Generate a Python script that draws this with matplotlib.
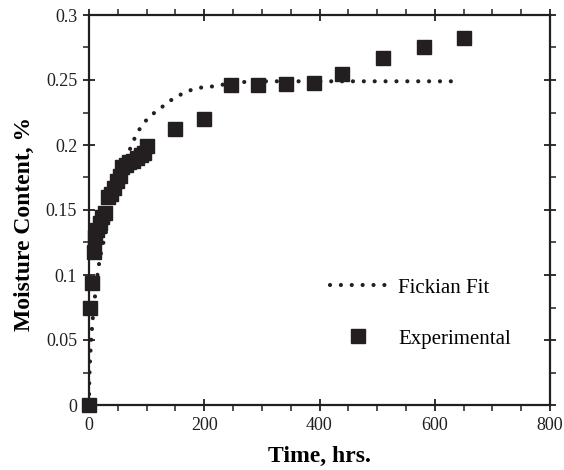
import matplotlib
matplotlib.use("Agg")
import matplotlib.pyplot as plt
from matplotlib.ticker import MultipleLocator

plt.rcParams['font.family'] = ['Liberation Serif', 'DejaVu Serif']

# Experimental data (time in hrs, moisture content in %)
exp_time = [0, 2, 5, 8, 10, 14, 19, 23, 28, 33, 38, 43, 48, 54, 58, 64, 70, 77, 84, 90, 95, 100,
            150, 199, 246, 294, 342, 390, 439, 510, 582, 651]
exp_moist = [0, 0.075, 0.094, 0.118, 0.129, 0.135, 0.140, 0.145, 0.148, 0.160, 0.162, 0.167, 0.172,
             0.176, 0.183, 0.185, 0.187, 0.188, 0.190, 0.192, 0.194, 0.199,
             0.212, 0.220, 0.246, 0.246, 0.247, 0.248, 0.255, 0.267, 0.275, 0.282]

# Fickian fit curve
fit_time = [0, 0.25, 0.5, 1, 2, 3, 5, 7, 10, 13, 16, 22, 28, 35, 45, 55, 65, 73, 80, 90,
            103, 114, 129, 144, 160, 175, 191, 213, 240, 280, 350, 450, 550, 640]
fit_moist = [0, 0.013, 0.019, 0.026, 0.037, 0.045, 0.058, 0.069, 0.082, 0.094, 0.105, 0.120,
             0.130, 0.145, 0.163, 0.178, 0.190, 0.199, 0.206, 0.214, 0.221, 0.225, 0.230,
             0.235, 0.239, 0.242, 0.244, 0.245, 0.247, 0.249, 0.249, 0.249, 0.249, 0.249]

ink = '#231f20'

fig = plt.figure(figsize=(5.64, 4.70), dpi=100)
ax = fig.add_axes([89 / 564, 1 - 405 / 470, (550 - 89) / 564, (405 - 15) / 470])

ax.plot(fit_time, fit_moist, color=ink, lw=3.0, linestyle=(0, (0.01, 2.6)),
        dash_capstyle='round', label='Fickian Fit', zorder=2)
ax.plot(exp_time, exp_moist, linestyle='none', marker='s', ms=9.5, color=ink,
        mec=ink, label='Experimental', zorder=3, clip_on=False)

ax.set_xlim(0, 800)
ax.set_ylim(0, 0.3)
ax.xaxis.set_major_locator(MultipleLocator(200))
ax.xaxis.set_minor_locator(MultipleLocator(50))
ax.yaxis.set_minor_locator(MultipleLocator(0.025))
ax.set_yticks([0, 0.05, 0.1, 0.15, 0.2, 0.25, 0.3])
ax.set_yticklabels(['0', '0.05', '0.1', '0.15', '0.2', '0.25', '0.3'])

for s in ax.spines.values():
    s.set_linewidth(1.6)
    s.set_color(ink)
ax.tick_params(which='major', direction='inout', length=9, width=1.3, colors=ink,
               labelsize=13, top=True, right=True, pad=4)
ax.tick_params(which='minor', direction='out', length=4, width=1.1, colors=ink,
               top=True, right=True)

ax.set_xlabel('Time, hrs.', fontsize=17, fontweight='bold', labelpad=9)
ax.set_ylabel('Moisture Content, %', fontsize=17, fontweight='bold')
ax.yaxis.set_label_coords(-0.117, 0.464)

ax.legend(loc='center left', bbox_to_anchor=(0.523, 0.235), frameon=False,
          borderpad=0, borderaxespad=0, fontsize=15, handlelength=2.7,
          handletextpad=0.58, labelspacing=1.5, numpoints=1)

fig.savefig('out.png', dpi=100)
